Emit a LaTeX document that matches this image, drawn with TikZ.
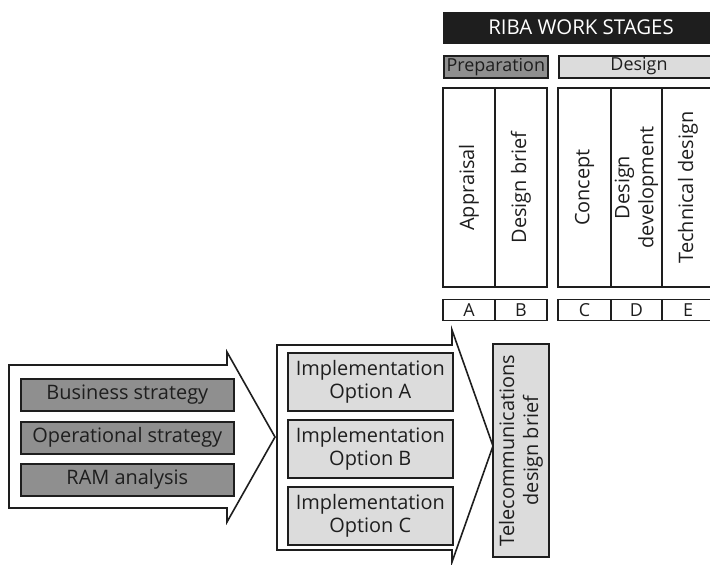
\documentclass[tikz,border=0pt]{standalone}
\usepackage{fontspec}
\setmainfont{Open Sans}
\definecolor{ink}{HTML}{1E1E1E}
\definecolor{midgrey}{HTML}{8F8F8F}
\definecolor{lightgrey}{HTML}{DCDCDC}
\begin{document}
\begin{tikzpicture}[x=1bp,y=-1bp,line width=1.6bp,
  txt/.style={font=\fontsize{20}{24}\selectfont,text=ink,align=center,inner sep=0pt},
  small/.style={font=\fontsize{18}{22}\selectfont},
  box/.style={draw=ink,txt},
  darkbox/.style={box,fill=midgrey},
  lightbox/.style={box,fill=lightgrey},
  stagecol/.style={box,rotate=90,minimum width=199bp,minimum height=52bp},
  letterbox/.style={box,small,minimum height=21bp},
  bigarrow/.style={draw=ink,fill=white,line join=miter}]
\clip (0,0) rectangle (710,565);

% header
\node[draw=ink,fill=ink,txt,anchor=north west,minimum width=277bp,minimum height=30bp] (title) at (443,12) {};
\node[txt,text=white,font=\fontsize{20.5}{24}\selectfont] (titletext) at (581,27) {RIBA WORK STAGES};
\node[darkbox,small,anchor=north west,minimum width=104bp,minimum height=22bp] (prep) at (443,55) {Preparation};
\node[lightbox,anchor=north west,minimum width=160bp,minimum height=22bp] (design) at (558,55) {};
\node[txt,small] (designtext) at (639,66) {Design};

% work stage columns
\node[stagecol,minimum height=52bp] (appraisal) at (469,187.5) {Appraisal};
\node[stagecol,minimum height=52bp] (brief) at (521,187.5) {Design brief};
\node[stagecol,minimum height=53bp] (concept) at (584.5,187.5) {Concept};
\node[stagecol,minimum height=51bp] (devel) at (636.5,187.5) {Design\\development};
\node[stagecol,minimum height=52bp] (technical) at (688,187.5) {Technical design};

% stage letters
\node[letterbox,minimum width=52bp] (la) at (469,310) {A};
\node[letterbox,minimum width=52bp] (lb) at (521,310) {B};
\node[letterbox,minimum width=53bp] (lc) at (584.5,310) {C};
\node[letterbox,minimum width=51bp] (ld) at (636.5,310) {D};
\node[letterbox,minimum width=52bp] (le) at (688,310) {E};

% second block arrow with implementation options
\draw[bigarrow] (277,345) -- (452,345) -- (452,330) -- (493,446) -- (452,562)
  -- (452,550) -- (277,550) -- cycle;
\node[lightbox,anchor=north west,minimum width=165bp,minimum height=58bp] (optA) at (287,352) {Implementation\\Option A};
\node[lightbox,anchor=north west,minimum width=165bp,minimum height=58bp] (optB) at (287,419) {Implementation\\Option B};
\node[lightbox,anchor=north west,minimum width=165bp,minimum height=58bp] (optC) at (287,486) {Implementation\\Option C};

% first block arrow with inputs
\draw[bigarrow] (9,365) -- (227,365) -- (227,352) -- (275,437) -- (227,522)
  -- (227,508) -- (9,508) -- cycle;
\node[darkbox,anchor=north west,minimum width=213bp,minimum height=32bp] (business) at (20,378) {Business strategy};
\node[darkbox,anchor=north west,minimum width=213bp,minimum height=32bp] (operational) at (20,421) {Operational strategy};
\node[darkbox,anchor=north west,minimum width=213bp,minimum height=32bp] (ram) at (20,463) {RAM analysis};

% resulting brief
\node[lightbox,rotate=90,minimum width=213bp,minimum height=56bp] (telecom) at (521,450.5) {Telecommunications\\design brief};
\end{tikzpicture}
\end{document}
